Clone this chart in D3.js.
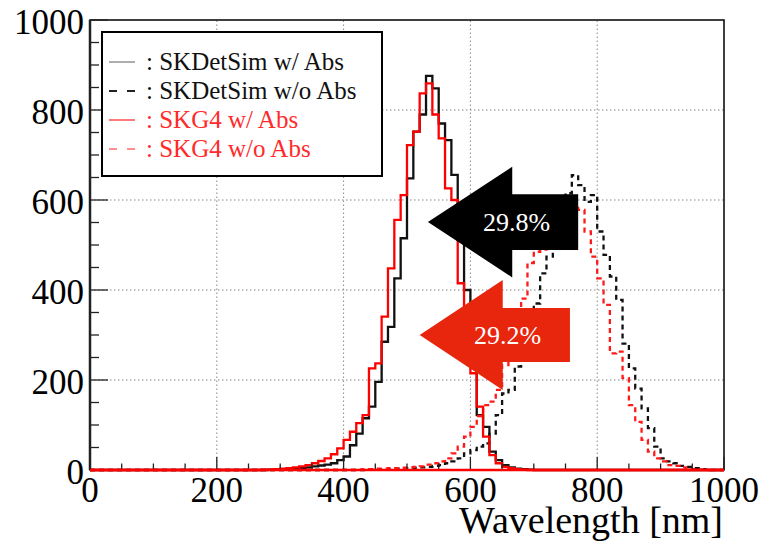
<!DOCTYPE html>
<html>
<head>
<meta charset="utf-8">
<script src="https://cdn.jsdelivr.net/npm/d3@7"></script>
<style>
  body { margin: 0; background: #fff; }
  text { font-family: "Liberation Serif", "DejaVu Serif", serif; }
</style>
</head>
<body>
<script>
// Width and height
var w = 766;
var h = 547;

// Binning: 10 nm bins, values listed from 250 nm up to 990 nm (zero elsewhere)
var binStart = 250;
var binWidth = 10;

// SKDetSim w/ Abs (black solid)
var detAbs = [0, 0, 0, 1, 1, 2, 3, 4, 5, 6, 8, 10, 12, 15, 22, 30, 55, 81, 115, 141,
              196, 285, 318, 426, 515, 648, 752, 790, 876, 848, 770, 733, 656, 530, 400, 250, 122, 96, 41, 22,
              11, 6, 3, 2, 1, 0, 0, 0, 0, 0, 0, 0, 0, 0, 0, 0, 0, 0, 0, 0,
              0, 0, 0, 0, 0, 0, 0, 0, 0, 0, 0, 0, 0, 0, 0];
// SKDetSim w/o Abs (black dashed)
var detNoAbs = [0, 0, 0, 0, 0, 0, 0, 0, 0, 0, 0, 0, 0, 0, 0, 0, 0, 0, 0, 1,
                2, 2, 3, 3, 4, 4, 5, 6, 7, 9, 11, 15, 19, 26, 37, 44, 52, 59, 81, 122,
                170, 178, 230, 290, 330, 370, 437, 474, 520, 560, 615, 655, 633, 596, 611, 530, 478, 430, 378, 281,
                226, 181, 137, 93, 52, 26, 19, 15, 9, 7, 4, 2, 1, 0, 0];
// SKG4 w/ Abs (red solid)
var g4Abs = [0, 0, 1, 1, 2, 3, 4, 6, 8, 11, 15, 20, 26, 35, 48, 67, 85, 104, 122, 226,
             237, 341, 448, 556, 611, 722, 752, 837, 859, 790, 737, 626, 600, 415, 300, 215, 141, 74, 33, 15,
             7, 4, 2, 1, 0, 0, 0, 0, 0, 0, 0, 0, 0, 0, 0, 0, 0, 0, 0, 0,
             0, 0, 0, 0, 0, 0, 0, 0, 0, 0, 0, 0, 0, 0, 0];
// SKG4 w/o Abs (red dashed)
var g4NoAbs = [0, 0, 0, 0, 0, 0, 0, 0, 0, 0, 0, 0, 0, 0, 0, 0, 0, 1, 2, 2,
               3, 3, 4, 4, 5, 6, 7, 8, 12, 15, 19, 26, 37, 52, 74, 96, 120, 144, 152, 178,
               233, 290, 340, 381, 460, 485, 490, 520, 545, 565, 585, 590, 578, 530, 474, 426, 367, 259, 263, 204,
               144, 107, 67, 41, 26, 19, 11, 9, 6, 3, 2, 1, 0, 0, 0];

var legendNames = ["SKDetSim w/ Abs", "SKDetSim w/o Abs", "SKG4 w/ Abs", "SKG4 w/o Abs"];

// Arrow annotations in data units: [tip wavelength, head back, body end], [centre, head half-height, body half-height]
var arrowLabels = ["29.8%", "29.2%"];
var arrowX = [[533, 666, 770], [520, 651, 757]];
var arrowY = [[551, 123, 62], [300, 122, 60]];

var xTicks = [0, 200, 400, 600, 800, 1000];
var yTicks = [0, 200, 400, 600, 800, 1000];

// Scales
var x = d3.scaleLinear().domain([0, 1000]).range([90, 724]);
var y = d3.scaleLinear().domain([0, 1000]).range([470, 20]);

var svg = d3.select("body")
            .append("svg")
            .attr("width", w)
            .attr("height", h);

// Grid
svg.append("g")
   .selectAll("line")
   .data(xTicks.slice(1, -1))
   .enter().append("line")
   .attr("x1", function(d) { return x(d); })
   .attr("x2", function(d) { return x(d); })
   .attr("y1", y(0)).attr("y2", y(1000))
   .attr("stroke", "#888").attr("stroke-width", 1)
   .attr("stroke-dasharray", "1.5,2.5");
svg.append("g")
   .selectAll("line")
   .data(yTicks.slice(1, -1))
   .enter().append("line")
   .attr("y1", function(d) { return y(d); })
   .attr("y2", function(d) { return y(d); })
   .attr("x1", x(0)).attr("x2", x(1000))
   .attr("stroke", "#888").attr("stroke-width", 1)
   .attr("stroke-dasharray", "1.5,2.5");

// Histogram step lines
function steps(vals) {
  var pts = [];
  var edges = d3.range(0, 1000, binWidth);
  edges.forEach(function(e) {
    var i = (e - binStart) / binWidth;
    var v = (i >= 0 && i < vals.length) ? vals[i] : 0;
    pts.push([e, v]);
  });
  pts.push([1000, pts[pts.length - 1][1]]);
  return pts;
}
var line = d3.line()
             .x(function(d) { return x(d[0]); })
             .y(function(d) { return y(d[1]); })
             .curve(d3.curveStepAfter);

var series = [
  { vals: detNoAbs, color: "#111", dash: "5,4" },
  { vals: detAbs,   color: "#111", dash: null },
  { vals: g4NoAbs,  color: "#ff1a1a", dash: "5,4" },
  { vals: g4Abs,    color: "#ff0000", dash: null }
];
series.forEach(function(s) {
  svg.append("path")
     .attr("d", line(steps(s.vals)))
     .attr("fill", "none")
     .attr("stroke", s.color)
     .attr("stroke-width", 2.3)
     .attr("stroke-dasharray", s.dash);
});

// Arrows
var arrowFill = ["#000", "#e8250d"];
arrowX.forEach(function(ax, i) {
  var ay = arrowY[i];
  var pts = [
    [ax[0], ay[0]],
    [ax[1], ay[0] + ay[1]],
    [ax[1], ay[0] + ay[2]],
    [ax[2], ay[0] + ay[2]],
    [ax[2], ay[0] - ay[2]],
    [ax[1], ay[0] - ay[2]],
    [ax[1], ay[0] - ay[1]]
  ];
  svg.append("polygon")
     .attr("points", pts.map(function(p) { return x(p[0]) + "," + y(p[1]); }).join(" "))
     .attr("fill", arrowFill[i]);
  svg.append("text")
     .attr("x", x((ax[1] + ax[0] + ax[1] + ax[2]) / 4 + 14))
     .attr("y", y(ay[0]) + 9)
     .attr("text-anchor", "middle")
     .attr("font-size", 26)
     .attr("fill", "#fff")
     .text(arrowLabels[i]);
});

// Frame
svg.append("rect")
   .attr("x", x(0)).attr("y", y(1000))
   .attr("width", x(1000) - x(0)).attr("height", y(0) - y(1000))
   .attr("fill", "none").attr("stroke", "#000").attr("stroke-width", 1.5);
svg.append("line")
   .attr("x1", x(0)).attr("x2", x(0)).attr("y1", y(0)).attr("y2", y(1000))
   .attr("stroke", "#222").attr("stroke-width", 2.5);

// Ticks (inward)
svg.append("g").selectAll("line")
   .data(d3.range(0, 1001, 50))
   .enter().append("line")
   .attr("x1", function(d) { return x(d); })
   .attr("x2", function(d) { return x(d); })
   .attr("y1", y(0))
   .attr("y2", function(d) { return y(0) - (d % 200 === 0 ? 13 : 6.5); })
   .attr("stroke", "#222").attr("stroke-width", 1.3);
svg.append("g").selectAll("line")
   .data(d3.range(0, 1001, 50))
   .enter().append("line")
   .attr("y1", function(d) { return y(d); })
   .attr("y2", function(d) { return y(d); })
   .attr("x1", x(0))
   .attr("x2", function(d) { return x(0) + (d % 200 === 0 ? 18 : 9); })
   .attr("stroke", "#222").attr("stroke-width", 1.3);

// Redraw bottom red baseline on top of frame
svg.append("line")
   .attr("x1", x(0)).attr("x2", x(1000)).attr("y1", y(0)).attr("y2", y(0))
   .attr("stroke", "#ff0000").attr("stroke-width", 2.4);

// Tick labels
svg.append("g").selectAll("text")
   .data(xTicks)
   .enter().append("text")
   .attr("x", function(d) { return x(d); })
   .attr("y", y(0) + 32)
   .attr("text-anchor", "middle")
   .attr("font-size", 35)
   .text(function(d) { return d; });
svg.append("g").selectAll("text")
   .data(yTicks)
   .enter().append("text")
   .attr("x", x(0) - 6)
   .attr("y", function(d) { return y(d) + 14; })
   .attr("text-anchor", "end")
   .attr("font-size", 35)
   .text(function(d) { return d; });

// Axis title
svg.append("text")
   .attr("x", 723)
   .attr("y", 533)
   .attr("text-anchor", "end")
   .attr("font-size", 38)
   .text("Wavelength [nm]");

// Legend
var leg = svg.append("g");
leg.append("rect")
   .attr("x", 102).attr("y", 32).attr("width", 280).attr("height", 144)
   .attr("fill", "#fff").attr("stroke", "#000").attr("stroke-width", 2);
var legColor = ["#777", "#222", "#ff2020", "#ff2020"];
var legText = ["#111", "#111", "#ff2a2a", "#ff2a2a"];
var legDash = [null, "8,10", null, "8,10"];
legendNames.forEach(function(name, i) {
  var cy = 62 + i * 29;
  leg.append("line")
     .attr("x1", 109).attr("x2", 135).attr("y1", cy).attr("y2", cy)
     .attr("stroke", legColor[i]).attr("stroke-width", i === 1 ? 1.8 : 1.2)
     .attr("stroke-dasharray", legDash[i]);
  leg.append("text")
     .attr("x", 146).attr("y", cy + 8)
     .attr("font-size", 25)
     .attr("fill", legText[i])
     .text(": " + name);
});
</script>
</body>
</html>
